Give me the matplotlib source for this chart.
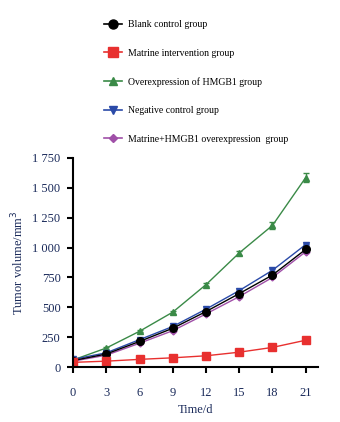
import matplotlib
matplotlib.use('Agg')
from matplotlib import pyplot as plt
from matplotlib.lines import Line2D
from matplotlib.ticker import FuncFormatter

plt.rcParams['font.family'] = ['Liberation Serif', 'DejaVu Serif']

days = [0, 3, 6, 9, 12, 15, 18, 21]
blank = [55, 110, 215, 325, 465, 615, 770, 985]
matrine = [40, 50, 65, 78, 95, 125, 165, 225]
hmgb1 = [60, 160, 300, 460, 690, 955, 1185, 1585]
hmgb1_err = [5, 8, 10, 12, 15, 15, 30, 40]
negative = [65, 120, 230, 340, 485, 640, 810, 1025]
combo = [50, 100, 200, 305, 445, 590, 750, 965]

labels = ['Blank control group', 'Matrine intervention group',
          'Overexpression of HMGB1 group', 'Negative control group',
          'Matrine+HMGB1 overexpression  group']

# style per series: color, marker, marker size
styles = {
    'blank': ('black', 'o', 5.5),
    'matrine': ('#e8302f', 's', 5.5),
    'hmgb1': ('#3a8a47', '^', 5),
    'negative': ('#2a4aa8', 'v', 5),
    'combo': ('#a050a8', 'D', 3.5),
}

fig = plt.figure(figsize=(3.4, 4.22), dpi=100)
ax = fig.add_axes([0.215, 0.130, 0.72, 0.496])

def draw(y, err, key):
    c, m, s = styles[key]
    ax.errorbar(days, y, yerr=err, color=c, marker=m, ms=s, lw=1,
                capsize=2, elinewidth=1)

draw(hmgb1, hmgb1_err, 'hmgb1')
draw(negative, 8, 'negative')
draw(combo, 8, 'combo')
draw(blank, 8, 'blank')
draw(matrine, 6, 'matrine')

handles = [Line2D([], [], color=styles[k][0], marker=styles[k][1],
                  ms=styles[k][2] + 1, lw=1.2)
           for k in ['blank', 'matrine', 'hmgb1', 'negative', 'combo']]

ax.set_xlim(0, 22.1)
ax.set_ylim(0, 1750)
ax.set_xticks(days)
ax.set_yticks(range(0, 1751, 250))
ax.yaxis.set_major_formatter(FuncFormatter(lambda v, p: '{:,}'.format(int(v)).replace(',', ' ')))
ax.spines['top'].set_visible(False)
ax.spines['right'].set_visible(False)
ax.spines['left'].set_linewidth(1.5)
ax.spines['bottom'].set_linewidth(1.5)
ax.tick_params(width=1.5, length=4, labelsize=9, labelcolor='#1a2a5a')
ax.tick_params(axis='y', pad=5)
ax.tick_params(axis='x', pad=10)
ax.set_xlabel('Time/d', fontsize=9, color='#1a2a5a')
ax.set_ylabel('Tumor volume/mm$^3$', fontsize=9, color='#1a2a5a', labelpad=4)

fig.legend(handles, labels, loc='upper left', bbox_to_anchor=(0.281, 0.973),
           frameon=False, fontsize=7, labelspacing=2.0, handlelength=1.85,
           handletextpad=0.6)

plt.savefig('out.png', dpi=100)
